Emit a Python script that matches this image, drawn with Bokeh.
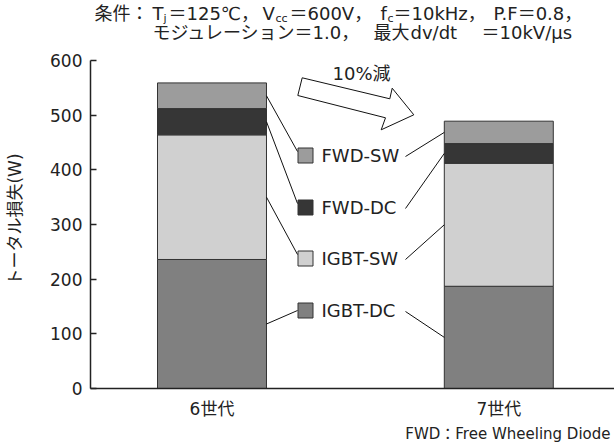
from bokeh.plotting import figure
from bokeh.layouts import column
from bokeh.models import Range1d, FixedTicker, Label, ColumnDataSource, Title
from bokeh.embed import file_html
from bokeh.resources import INLINE

# ---- data ----
categories = ["6世代", "7世代"]
components = ["IGBT-DC", "IGBT-SW", "FWD-DC", "FWD-SW"]
igbt_dc = [236, 187]
igbt_sw = [228, 225]
fwd_dc = [48, 36]
fwd_sw = [47, 41]
y_ticks = [0, 100, 200, 300, 400, 500, 600]

# ---- styles ----
colors = ["#808080", "#d0d0d0", "#363636", "#9c9c9c"]
FONT = "DejaVu Sans, Noto Sans CJK JP"
TXT = "#222222"
BAR_W = 0.38

W = 614
LEFT = 90
TOP_H = 50
MAIN_H = 397
X0, XS = 211.5, 286.8          # page px of category 0, px per category
Y0, YS = 388.0, 328.0 / 600.0  # page px of value 0, px per unit


def X(px):
    return (px - X0) / XS


def Y(py):
    return (Y0 - py) / YS


# ---------------- title strip ----------------
t = figure(width=W, height=TOP_H, output_backend="svg", toolbar_location=None,
           x_range=Range1d(LEFT, W), y_range=Range1d(TOP_H, 0),
           x_axis_location=None, y_axis_location=None,
           min_border_left=LEFT, min_border_right=0, min_border_top=0,
           min_border_bottom=0)
t.outline_line_color = None
t.grid.visible = False
t.background_fill_color = "white"
t.border_fill_color = "white"


def tl(px, py, text, size="18px"):
    t.add_layout(Label(x=px, y=py, text=text, text_font=FONT,
                       text_font_size=size, text_color=TXT,
                       text_align="left", text_baseline="middle"))


L1, SUB, L2 = 12.5, 18, 32
tl(94, L1, "条件：")
tl(152, L1, "T")
tl(163, SUB, "j", "11px")
tl(168, L1, "＝125℃，")
tl(262, L1, "V")
tl(275, SUB, "cc", "11px")
tl(289, L1, "＝600V，")
tl(380, L1, "f")
tl(387, SUB, "c", "11px")
tl(393, L1, "＝10kHz，")
tl(493, L1, "P.F＝0.8，")
tl(152, L2, "モジュレーション＝1.0，")
tl(373, L2, "最大")
tl(410, L2, "dv/dt")
tl(481, L2, "＝10kV/μs")

# ---------------- main chart ----------------
p = figure(width=W, height=MAIN_H, output_backend="svg", toolbar_location=None,
           x_range=Range1d(X(LEFT), X(W)), y_range=Range1d(0, Y(TOP_H)),
           min_border_left=LEFT, min_border_right=0, min_border_top=0,
           min_border_bottom=59)
p.outline_line_color = None
p.grid.visible = False
p.background_fill_color = "white"
p.border_fill_color = "white"

# y axis
ya = p.yaxis[0]
ya.ticker = FixedTicker(ticks=y_ticks)
ya.bounds = (0, 600)
ya.major_tick_in = 6
ya.major_tick_out = 0
ya.minor_tick_in = 0
ya.minor_tick_out = 0
ya.major_label_standoff = 8
ya.major_label_text_font = FONT
ya.major_label_text_font_size = "17px"
ya.major_label_text_color = TXT
ya.axis_line_width = 1.5
ya.axis_line_color = "#222222"
ya.major_tick_line_width = 1.5
ya.major_tick_line_color = "#222222"
ya.axis_label = "トータル損失(W)"
ya.axis_label_text_font = FONT
ya.axis_label_text_font_size = "17px"
ya.axis_label_text_font_style = "normal"
ya.axis_label_text_color = TXT
ya.axis_label_standoff = 22

# x axis
xa = p.xaxis[0]
xa.ticker = FixedTicker(ticks=list(range(len(categories))))
xa.major_label_overrides = {i: c for i, c in enumerate(categories)}
xa.major_tick_in = 0
xa.major_tick_out = 0
xa.minor_tick_in = 0
xa.minor_tick_out = 0
xa.major_label_standoff = 10
xa.major_label_text_font = FONT
xa.major_label_text_font_size = "17px"
xa.major_label_text_color = TXT
xa.axis_line_width = 1.5
xa.axis_line_color = "#222222"

# stacked bars
xs = list(range(len(categories)))
series = {"IGBT-DC": igbt_dc, "IGBT-SW": igbt_sw, "FWD-DC": fwd_dc, "FWD-SW": fwd_sw}
src = ColumnDataSource(dict(x=xs, **series))
p.vbar_stack(components, x="x", width=BAR_W, fill_color=colors,
             line_color="#333333", line_width=1, source=src)

# segment midpoints
mids = {}
bottoms = [0] * len(categories)
for comp in components:
    vals = series[comp]
    mids[comp] = [b + v / 2 for b, v in zip(bottoms, vals)]
    bottoms = [b + v for b, v in zip(bottoms, vals)]

# legend between the bars, with leader lines
leg_y = {"FWD-SW": 155, "FWD-DC": 207, "IGBT-SW": 258, "IGBT-DC": 310}
for comp, col in zip(components, colors):
    cy = leg_y[comp]
    p.scatter([X(305)], [Y(cy)], marker="square", size=15,
              fill_color=col, line_color="#333333", line_width=1)
    p.add_layout(Label(x=X(321), y=Y(cy), text=comp, text_font=FONT,
                       text_font_size="18px", text_color=TXT,
                       text_align="left", text_baseline="middle"))
    end_y = cy - 4 if comp != "IGBT-DC" else cy
    p.segment(x0=[xs[0] + BAR_W / 2], y0=[mids[comp][0]],
              x1=[X(297)], y1=[Y(end_y)], line_color="#111111", line_width=1)
    p.segment(x0=[X(405)], y0=[Y(cy + 1)],
              x1=[xs[1] - BAR_W / 2], y1=[mids[comp][1]],
              line_color="#111111", line_width=1)

# hollow arrow "10%減"
arrow_px = [(301.7, 77.3), (389.3, 98.3), (391.7, 87.7), (413.3, 114.3),
            (380.7, 129.3), (385.0, 117.3), (297.3, 95.0)]
p.patch([X(a) for a, b in arrow_px], [Y(b) for a, b in arrow_px],
        fill_color="white", line_color="#111111", line_width=1)
p.add_layout(Label(x=X(332), y=Y(73), text="10%減", text_font=FONT,
                   text_font_size="18px", text_color=TXT,
                   text_align="left", text_baseline="middle"))

# footnote
p.add_layout(Title(text="FWD：Free Wheeling Diode", align="right",
                   text_font=FONT, text_font_size="15px",
                   text_font_style="normal", text_color=TXT,
                   offset=4, standoff=3), "below")

layout = column(t, p, spacing=0)
open("out.html", "w").write(file_html(layout, INLINE))
